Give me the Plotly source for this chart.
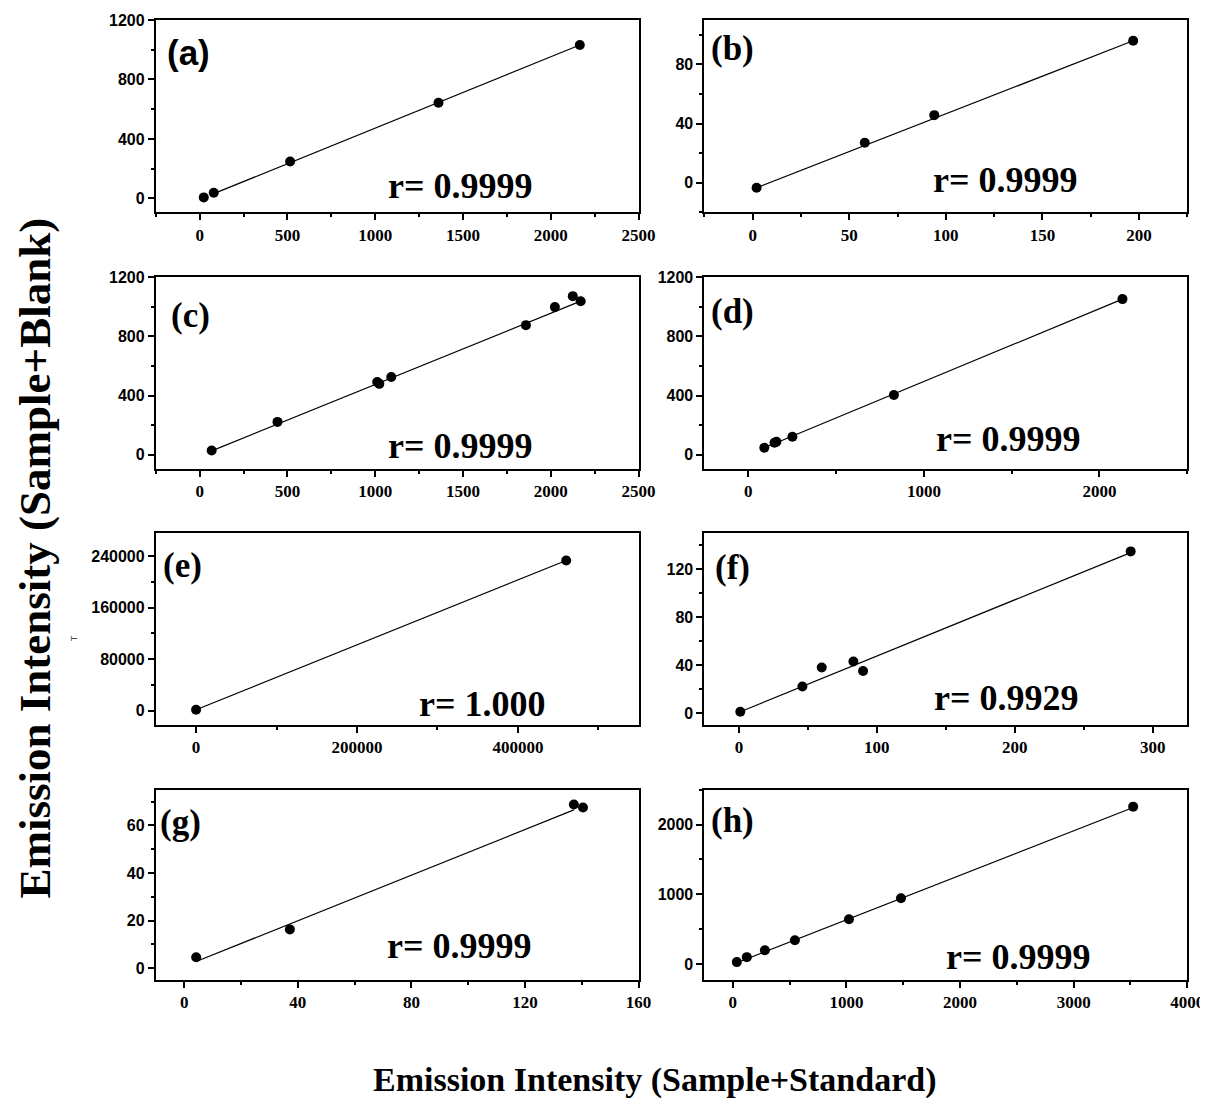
import plotly.graph_objects as go

# ---------------- data ----------------
labels = ["(a)", "(b)", "(c)", "(d)", "(e)", "(f)", "(g)", "(h)"]
r_texts = ["r= 0.9999", "r= 0.9999", "r= 0.9999", "r= 0.9999",
           "r= 1.000", "r= 0.9929", "r= 0.9999", "r= 0.9999"]

a_x = [23, 80, 515, 1360, 2165]
a_y = [7, 38, 248, 643, 1032]
a_fit_x = [80, 2165]
a_fit_y = [32, 1032]

b_x = [2, 58, 94, 197]
b_y = [-3.4, 27, 45.7, 96]
b_fit_x = [2, 197]
b_fit_y = [-3.4, 96]

c_x = [68, 443, 1011, 1023, 1091, 1858, 2023, 2125, 2170]
c_y = [29, 222, 492, 479, 526, 876, 998, 1072, 1038]
c_fit_x = [68, 2170]
c_fit_y = [26, 1038]

d_x = [91, 149, 160, 251, 829, 2131]
d_y = [47, 81, 88, 121, 404, 1052]
d_fit_x = [91, 2131]
d_fit_y = [47, 1052]

e_x = [0, 460000]
e_y = [1500, 233000]
e_fit_x = [0, 460000]
e_fit_y = [1500, 233000]

f_x = [1, 46, 60, 83, 90, 284]
f_y = [1, 22, 38, 43, 35, 135]
f_fit_x = [1, 284]
f_fit_y = [1, 134]

g_x = [4.2, 37.2, 137.2, 140.4]
g_y = [4.6, 16.3, 68.8, 67.5]
g_fit_x = [4.2, 137.2]
g_fit_y = [2.8, 66.5]

h_x = [35, 123, 282, 546, 1022, 1480, 3524]
h_y = [29, 100, 200, 343, 643, 943, 2257]
h_fit_x = [35, 3524]
h_fit_y = [20, 2245]

panels = [
    (a_x, a_y, a_fit_x, a_fit_y),
    (b_x, b_y, b_fit_x, b_fit_y),
    (c_x, c_y, c_fit_x, c_fit_y),
    (d_x, d_y, d_fit_x, d_fit_y),
    (e_x, e_y, e_fit_x, e_fit_y),
    (f_x, f_y, f_fit_x, f_fit_y),
    (g_x, g_y, g_fit_x, g_fit_y),
    (h_x, h_y, h_fit_x, h_fit_y),
]

# axis settings: (xrange, xdtick, xminor, yrange, ydtick, yminor)
axes_cfg = [
    ([-250, 2500], 500, 250, [-94, 1200], 400, 200),
    ([-25, 225], 50, 25, [-20, 110], 40, 20),
    ([-250, 2500], 500, 250, [-94, 1200], 400, 200),
    ([-250, 2500], 1000, 500, [-94, 1200], 400, 200),
    ([-50000, 550000], 200000, 100000, [-22000, 275000], 80000, 40000),
    ([-25, 325], 100, 50, [-10, 150], 40, 20),
    ([-10, 160], 40, 20, [-5, 75], 20, 10),
    ([-250, 4000], 1000, 500, [-229, 2500], 1000, 500),
]

# ---------------- geometry ----------------
FW, FH = 1208, 1113


def mx(px):
    return (px - 6.8) / 0.9884


def my(py):
    return (py - 16) / 0.9958


def xd(p0, p1):
    return [mx(p0) / FW, mx(p1) / FW]


def yd(top, bot):
    return [1 - my(bot) / FH, 1 - my(top) / FH]


col_dom = [xd(155, 639), xd(705, 1189)]
row_dom = [yd(20, 213), yd(278, 470), yd(535, 727), yd(792, 983)]

label_pos = [(0.02, 0.83), (0.01, 0.85), (0.027, 0.80), (0.01, 0.82),
             (0.01, 0.83), (0.017, 0.82), (0.004, 0.83), (0.01, 0.84)]
r_pos = [(0.632, 0.135), (0.624, 0.17), (0.632, 0.12), (0.63, 0.155),
         (0.676, 0.11), (0.626, 0.14), (0.63, 0.18), (0.65, 0.12)]

fig = go.Figure()
annotations = []
serif = "Liberation Serif, Times New Roman, serif"
sans = "Liberation Sans, Arial, sans-serif"

for i, (px, py, fx, fy) in enumerate(panels):
    n = i + 1
    xa = "x" if n == 1 else f"x{n}"
    ya = "y" if n == 1 else f"y{n}"
    fig.add_trace(go.Scatter(x=fx, y=fy, mode="lines", xaxis=xa, yaxis=ya,
                             line=dict(color="black", width=1.2), showlegend=False))
    fig.add_trace(go.Scatter(x=px, y=py, mode="markers", xaxis=xa, yaxis=ya,
                             marker=dict(color="black", size=10), showlegend=False))
    xr, xdt, xm, yr, ydt, ym = axes_cfg[i]
    row, col = i // 2, i % 2
    xkey = "xaxis" if n == 1 else f"xaxis{n}"
    ykey = "yaxis" if n == 1 else f"yaxis{n}"
    fig.update_layout({
        xkey: dict(domain=col_dom[col], anchor=ya, range=xr, dtick=xdt, tick0=0,
                   tickformat="d",
                   showgrid=False, zeroline=False, showline=True, mirror=True,
                   linecolor="black", linewidth=2, ticks="outside", ticklen=6,
                   tickwidth=2, tickcolor="black",
                   minor=dict(dtick=xm, tick0=0, ticks="outside", ticklen=3,
                              tickwidth=1.5, tickcolor="black"),
                   tickfont=dict(family=serif, size=17, color="black", weight="bold")),
        ykey: dict(domain=row_dom[row], anchor=xa, range=yr, dtick=ydt, tick0=0,
                   tickformat="d",
                   showgrid=False, zeroline=False, showline=True, mirror=True,
                   linecolor="black", linewidth=2, ticks="outside", ticklen=6,
                   tickwidth=2, tickcolor="black",
                   minor=dict(dtick=ym, tick0=0, ticks="outside", ticklen=3,
                              tickwidth=1.5, tickcolor="black"),
                   tickfont=dict(family=sans, size=16, color="black", weight="bold")),
    })
    lx, ly = label_pos[i]
    annotations.append(dict(
        text=labels[i], xref=f"{xa} domain", yref=f"{ya} domain", x=lx, y=ly,
        xanchor="left", yanchor="middle", showarrow=False,
        font=dict(family=sans if i == 0 else serif, size=35, color="black", weight="bold")))
    rx, ry = r_pos[i]
    annotations.append(dict(
        text=r_texts[i], xref=f"{xa} domain", yref=f"{ya} domain", x=rx, y=ry,
        xanchor="center", yanchor="middle", showarrow=False,
        font=dict(family=serif, size=36, color="black", weight="bold")))

# axis titles
annotations.append(dict(text="Emission Intensity (Sample+Standard)", xref="paper", yref="paper",
                        x=mx(655) / FW, y=1 - my(1083) / FH, xanchor="center",
                        yanchor="middle", showarrow=False,
                        font=dict(family=serif, size=34, color="black", weight="bold")))
annotations.append(dict(text="Emission Intensity (Sample+Blank)", xref="paper", yref="paper",
                        x=mx(34) / FW, y=1 - my(560) / FH, xanchor="center",
                        yanchor="middle", textangle=-90, showarrow=False,
                        font=dict(family=serif, size=45, color="black", weight="bold")))
# small stray mark
annotations.append(dict(text="T", xref="paper", yref="paper", x=mx(73) / FW,
                        y=1 - my(640) / FH, xanchor="center", yanchor="middle",
                        textangle=-90, showarrow=False,
                        font=dict(family=sans, size=9, color="#444")))

fig.update_layout(
    width=FW, height=FH,
    margin=dict(l=0, r=0, t=0, b=0),
    paper_bgcolor="white", plot_bgcolor="white",
    annotations=annotations,
    showlegend=False,
)

fig.write_html("out.html")
